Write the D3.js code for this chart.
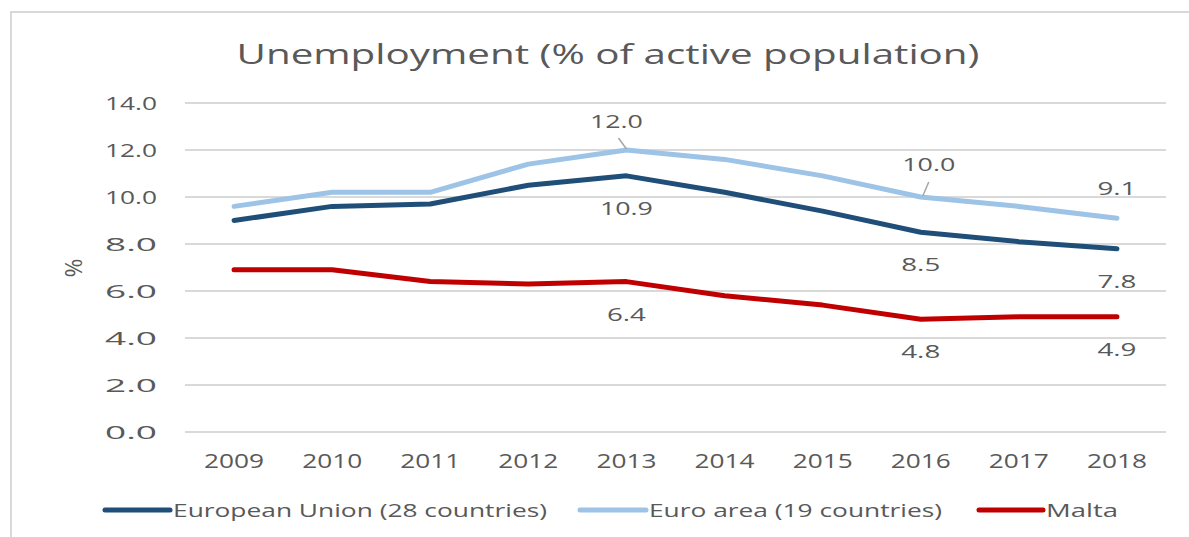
<!DOCTYPE html>
<html><head><meta charset="utf-8">
<script src="https://cdn.jsdelivr.net/npm/d3@7"></script>
<style>body{margin:0;background:#fff;}svg{display:block;}</style>
</head><body>
<svg id="c" width="1189" height="537"></svg>
<script>
const years = ["2009","2010","2011","2012","2013","2014","2015","2016","2017","2018"];
const euValues = [9.0, 9.6, 9.7, 10.5, 10.9, 10.2, 9.4, 8.5, 8.1, 7.8];
const eaValues = [9.6, 10.2, 10.2, 11.4, 12.0, 11.6, 10.9, 10.0, 9.6, 9.1];
const mtValues = [6.9, 6.9, 6.4, 6.3, 6.4, 5.8, 5.4, 4.8, 4.9, 4.9];
const yTicks = [0, 2, 4, 6, 8, 10, 12, 14];
const seriesNames = ["European Union (28 countries)", "Euro area (19 countries)", "Malta"];
const seriesColors = ["#1f4e79", "#9dc3e6", "#c00000"];
// labelled points: [series index, year index]
const labelPoints = [[1,4],[0,4],[1,7],[1,9],[0,7],[0,9],[2,4],[2,7],[2,9]];

const svg = d3.select("#c");
const txt = "#595959";
const font = "'Open Sans', 'DejaVu Sans', sans-serif";

// frame
svg.append("path").attr("d","M11,540 L11,12 L1192,12").attr("fill","none").attr("stroke","#d9d9d9").attr("stroke-width",2);

const x = d3.scaleBand().domain(years).range([185,1166]);
const y = d3.scaleLinear().domain([0,14]).range([432,103]);
const cx = yr => x(yr) + x.bandwidth()/2;

// gridlines
svg.append("g").selectAll("line").data(yTicks).join("line")
  .attr("x1",185).attr("x2",1166).attr("y1",d=>y(d)).attr("y2",d=>y(d))
  .attr("stroke","#d9d9d9").attr("stroke-width",2);

// y axis
const ya = svg.append("g").attr("transform","translate(157,0)")
  .call(d3.axisLeft(y).tickValues(yTicks).tickFormat(d3.format(".1f")).tickSize(0).tickPadding(0));
ya.select(".domain").remove();
ya.selectAll("text").attr("font-family",font).attr("font-size",19).attr("fill",txt)
  .attr("dy","0.36em").attr("textLength",52).attr("lengthAdjust","spacingAndGlyphs");

// x axis
const xa = svg.append("g").attr("transform","translate(0,468)")
  .call(d3.axisBottom(x).tickSize(0).tickPadding(0));
xa.select(".domain").remove();
xa.selectAll("text").attr("font-family",font).attr("font-size",20).attr("fill",txt)
  .attr("dy","0").attr("y",0).attr("textLength",60).attr("lengthAdjust","spacingAndGlyphs");

// title
svg.append("text").attr("x",608).attr("y",64).attr("text-anchor","middle")
  .attr("font-family",font).attr("font-size",27).attr("fill",txt)
  .attr("textLength",743).attr("lengthAdjust","spacingAndGlyphs")
  .text("Unemployment (% of active population)");

// y label
svg.append("text").attr("transform","translate(82,268) rotate(-90)").attr("text-anchor","middle")
  .attr("font-family",font).attr("font-size",23).attr("fill",txt).text("%");

const allSeries = [euValues, eaValues, mtValues];
const line = d3.line().x((d,i)=>cx(years[i])).y(d=>y(d));
allSeries.forEach((vals,si)=>{
  svg.append("path").datum(vals).attr("d",line).attr("fill","none")
    .attr("stroke",seriesColors[si]).attr("stroke-width",5).attr("stroke-linecap","round").attr("stroke-linejoin","round");
});

// data labels
const fmt = d3.format(".1f");
labelPoints.forEach(([si,yi])=>{
  const v = allSeries[si][yi];
  const px = cx(years[yi]);
  const py = y(v);
  let lx = px, ly = py + 39;
  if (si===1) {
    if (yi===4) { lx = px - 10; ly = py - 22;
      svg.append("line").attr("x1",px-8).attr("y1",py-12).attr("x2",px).attr("y2",py-1)
        .attr("stroke","#a6a6a6").attr("stroke-width",1.5);
    } else if (yi===7) { lx = px + 8; ly = py - 26;
      svg.append("line").attr("x1",px+8).attr("y1",py-15).attr("x2",px+2).attr("y2",py-1)
        .attr("stroke","#a6a6a6").attr("stroke-width",1.5);
    } else { lx = px; ly = py - 23; }
  }
  const s = fmt(v);
  svg.append("text").attr("x",lx).attr("y",ly).attr("text-anchor","middle")
    .attr("font-family",font).attr("font-size",19).attr("fill",txt)
    .attr("textLength", s.length===4 ? 53 : 39).attr("lengthAdjust","spacingAndGlyphs").text(s);
});

// legend
const legend = [
  {x1:103,x2:172,tx:173,tw:374},
  {x1:578,x2:648,tx:649,tw:293},
  {x1:977,x2:1045,tx:1046,tw:72}
];
legend.forEach((l,i)=>{
  svg.append("line").attr("x1",l.x1+2).attr("x2",l.x2-2).attr("y1",510).attr("y2",510)
    .attr("stroke",seriesColors[i]).attr("stroke-width",5).attr("stroke-linecap","round");
  svg.append("text").attr("x",l.tx).attr("y",517).attr("font-family",font)
    .attr("font-size",19).attr("fill",txt).attr("textLength",l.tw).attr("lengthAdjust","spacingAndGlyphs").text(seriesNames[i]);
});
</script>
</body></html>
